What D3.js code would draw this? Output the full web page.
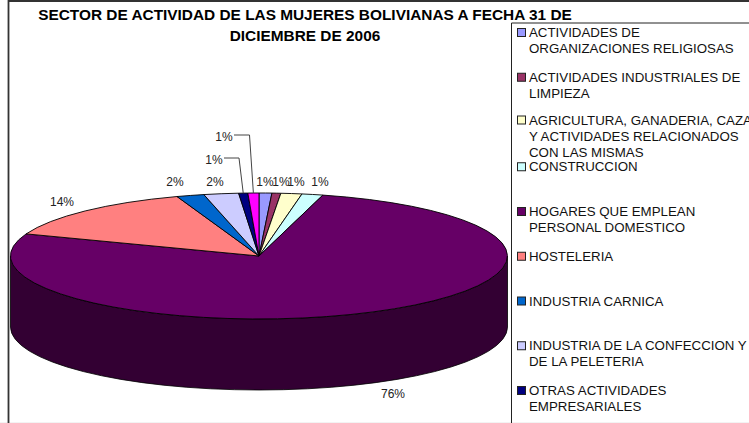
<!DOCTYPE html>
<html>
<head>
<meta charset="utf-8">
<script src="https://cdn.jsdelivr.net/npm/d3@7"></script>
<style>
  html, body { margin: 0; padding: 0; background: #fff; overflow: hidden; }
  text { font-family: "Liberation Sans", Arial, sans-serif; }
</style>
</head>
<body>
<svg id="chart" width="749" height="423"></svg>
<script>
const titleLines = ["SECTOR DE ACTIVIDAD DE LAS MUJERES BOLIVIANAS A FECHA 31 DE", "DICIEMBRE DE 2006"];

// the last slice (magenta) has no legend entry, the legend is cut off by the frame
const categories = [
    ["ACTIVIDADES DE", "ORGANIZACIONES RELIGIOSAS"],
    ["ACTIVIDADES INDUSTRIALES DE", "LIMPIEZA"],
    ["AGRICULTURA, GANADERIA, CAZA", "Y ACTIVIDADES RELACIONADOS", "CON LAS MISMAS"],
    ["CONSTRUCCION"],
    ["HOGARES QUE EMPLEAN", "PERSONAL DOMESTICO"],
    ["HOSTELERIA"],
    ["INDUSTRIA CARNICA"],
    ["INDUSTRIA DE LA CONFECCION Y", "DE LA PELETERIA"],
    ["OTRAS ACTIVIDADES", "EMPRESARIALES"]
];
const values = [0.83, 0.58, 1.35, 1.37, 76.57, 13.95, 1.78, 2.27, 0.58, 0.72];
const percentLabels = ["1%", "1%", "1%", "1%", "76%", "14%", "2%", "2%", "1%", "1%"];
const colors = ["#9999FF", "#993366", "#FFFFCC", "#CCFFFF", "#660066", "#FF8080", "#0066CC", "#CCCCFF", "#000080", "#FF00FF"];
const sideColor = "#330033";

// label placement
const labelX = [265, 281, 296, 320, 393, 62, 175, 215, 214, 224];
const labelY = [186, 186, 186, 186, 398, 206, 186, 186, 164, 141];
const leaderLines = [
    { slice: 8, points: [[224, 158], [239, 158]] },
    { slice: 9, points: [[234, 135], [249.5, 135]] }
];

const svg = d3.select("#chart");
const cx = 259, cy = 256, rx = 248.5, ry = 63, depth = 71;

// frame
svg.append("rect").attr("x", 0).attr("y", 422).attr("width", 749).attr("height", 1).attr("fill", "#f3f3f3");
svg.append("path")
    .attr("d", "M8.5,423V1H749")
    .attr("fill", "none")
    .attr("stroke", "#333")
    .attr("stroke-width", 1.8);

// pie wall, only the front of the big slice shows
svg.append("path")
    .attr("d", `M${cx - rx},${cy}A${rx},${ry} 0 0 0 ${cx + rx},${cy}L${cx + rx},${cy + depth}A${rx},${ry} 0 0 1 ${cx - rx},${cy + depth}Z`)
    .attr("fill", sideColor)
    .attr("stroke", "#000")
    .attr("stroke-width", 0.8);

// pie top: a unit circle squashed into an ellipse
const pie = d3.pie().sort(null).value(d => d);
const arcs = pie(values);
const arc = d3.arc().innerRadius(0).outerRadius(1);

svg.append("g")
    .attr("transform", `translate(${cx},${cy}) scale(${rx},${ry})`)
    .selectAll("path")
    .data(arcs)
    .enter()
    .append("path")
    .attr("d", arc)
    .attr("fill", (d, i) => colors[i])
    .attr("stroke", "#000")
    .attr("stroke-width", 0.9)
    .attr("vector-effect", "non-scaling-stroke");

// leader lines for the two slices labelled away from the pie
const leader = d3.line();
svg.append("g").selectAll("path")
    .data(leaderLines)
    .enter()
    .append("path")
    .attr("d", d => {
        const mid = (arcs[d.slice].startAngle + arcs[d.slice].endAngle) / 2;
        const end = [cx + rx * Math.sin(mid), cy - ry * Math.cos(mid)];
        return leader(d.points.concat([end]));
    })
    .attr("fill", "none")
    .attr("stroke", "#444")
    .attr("stroke-width", 1);

// percent labels
svg.append("g").selectAll("text")
    .data(percentLabels)
    .enter()
    .append("text")
    .attr("x", (d, i) => labelX[i])
    .attr("y", (d, i) => labelY[i])
    .attr("text-anchor", "middle")
    .attr("font-size", 12)
    .attr("fill", "#222")
    .text(d => d);

// legend, right and bottom edges run off the picture
svg.append("path")
    .attr("d", "M511.5,423V23H749")
    .attr("fill", "#fff")
    .attr("stroke", "#222")
    .attr("stroke-width", 1);

const legendY = d3.scalePoint()
    .domain(d3.range(categories.length))
    .range([37, 395]);

const legend = svg.append("g").selectAll("g")
    .data(categories)
    .enter()
    .append("g")
    .attr("transform", (d, i) => `translate(0,${legendY(i) - (d.length > 2 ? 2 : 0)})`);

legend.append("rect")
    .attr("x", 517.5)
    .attr("y", -8.5)
    .attr("width", 8)
    .attr("height", 8)
    .attr("fill", (d, i) => colors[i])
    .attr("stroke", "#222")
    .attr("stroke-width", 1);

legend.selectAll("text")
    .data(d => d)
    .enter()
    .append("text")
    .attr("x", 529)
    .attr("y", (d, i) => i * 16.2)
    .attr("font-size", 13.3)
    .attr("fill", "#111")
    .text(d => d);

// title goes last, its first line runs over the top of the legend box
svg.append("g").selectAll("text")
    .data(titleLines)
    .enter()
    .append("text")
    .attr("x", 305)
    .attr("y", (d, i) => 19.5 + i * 21)
    .attr("text-anchor", "middle")
    .attr("font-size", 15.4)
    .attr("font-weight", "bold")
    .attr("fill", "#000")
    .text(d => d);
</script>
</body>
</html>
